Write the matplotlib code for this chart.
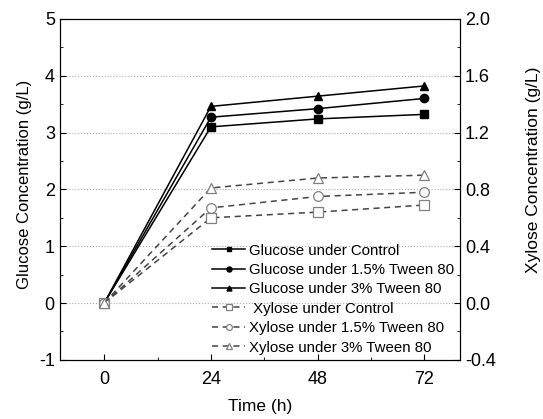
import matplotlib.pyplot as plt
from matplotlib.ticker import MultipleLocator

plt.rcParams["font.family"] = ["Liberation Sans", "DejaVu Sans"]

time_h = [0, 24, 48, 72]

glucose_control = [0, 3.10, 3.24, 3.32]
glucose_tween15 = [0, 3.27, 3.42, 3.60]
glucose_tween3 = [0, 3.46, 3.64, 3.82]

xylose_control = [0, 0.60, 0.64, 0.69]
xylose_tween15 = [0, 0.67, 0.75, 0.78]
xylose_tween3 = [0, 0.81, 0.88, 0.90]

fig, ax = plt.subplots(figsize=(5.43, 4.19), dpi=100)
fig.subplots_adjust(left=0.11, right=0.847, top=0.955, bottom=0.141)
ax2 = ax.twinx()

handles = []
for ys, mk, lab in [
    (glucose_control, "s", "Glucose under Control"),
    (glucose_tween15, "o", "Glucose under 1.5% Tween 80"),
    (glucose_tween3, "^", "Glucose under 3% Tween 80"),
]:
    (h,) = ax.plot(time_h, ys, color="black", lw=1.1, marker=mk, ms=6,
                   mfc="black", mec="black", label=lab)
    handles.append(h)

for ys, mk, lab in [
    (xylose_control, "s", " Xylose under Control"),
    (xylose_tween15, "o", "Xylose under 1.5% Tween 80"),
    (xylose_tween3, "^", "Xylose under 3% Tween 80"),
]:
    (h,) = ax2.plot(time_h, ys, color="#444444", lw=1.1, ls=(0, (4, 3)), marker=mk,
                    ms=7, mfc="white", mec="#808080", mew=0.9, label=lab)
    handles.append(h)

ax.set_xlim(-10, 80)
ax.set_ylim(-1, 5)
ax2.set_ylim(-0.4, 2.0)

ax.set_xticks(time_h)
ax.xaxis.set_minor_locator(MultipleLocator(12))
ax.set_yticks([-1, 0, 1, 2, 3, 4, 5])
ax.set_yticklabels(["-1", "0", "1", "2", "3", "4", "5"])
ax.yaxis.set_minor_locator(MultipleLocator(0.5))
ax2.set_yticks([-0.4, 0.0, 0.4, 0.8, 1.2, 1.6, 2.0])
ax2.set_yticklabels(["-0.4", "0.0", "0.4", "0.8", "1.2", "1.6", "2.0"])
ax2.yaxis.set_minor_locator(MultipleLocator(0.2))

for a in (ax, ax2):
    a.tick_params(which="both", direction="in", labelsize=13)
    a.tick_params(which="major", length=4)
    a.tick_params(which="minor", length=2)
ax.tick_params(axis="x", pad=8)

for y in [0, 1, 2, 3, 4]:
    ax.axhline(y, color="#aaaaaa", lw=0.8, ls=":", zorder=0)

ax.set_xlabel("Time (h)", fontsize=12.5, labelpad=8)
ax.set_ylabel("Glucose Concentration (g/L)", fontsize=12)
ax.yaxis.set_label_coords(-0.07, 0.515)
ax2.set_ylabel("Xylose Concentration (g/L)", fontsize=12.5)
ax2.yaxis.set_label_coords(1.165, 0.557)

ax2.legend(handles=handles, loc="lower right", bbox_to_anchor=(1.012, -0.015),
           frameon=False, fontsize=10.8, numpoints=1, handlelength=2.2,
           handletextpad=0.25, labelspacing=0.36, borderaxespad=0.3,
           markerscale=0.6)

fig.savefig("out.png", dpi=100)
